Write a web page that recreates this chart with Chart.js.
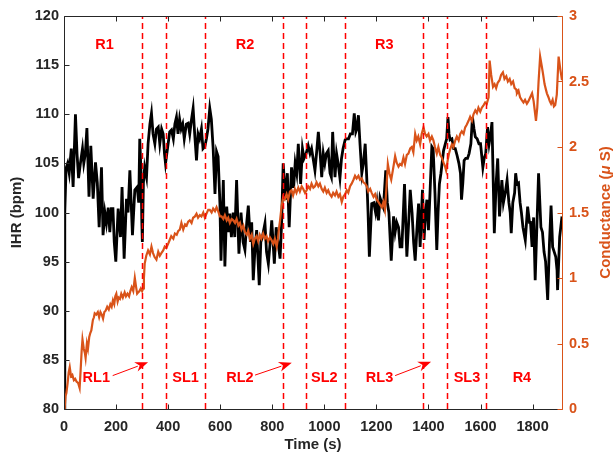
<!DOCTYPE html>
<html>
<head>
<meta charset="utf-8">
<script src="https://cdn.jsdelivr.net/npm/chart.js@4.4.1/dist/chart.umd.min.js"></script>
<style>
  body { margin: 0; background: #fff; }
  #chart { display: block; }
</style>
</head>
<body>
<canvas id="chart" width="614" height="459"></canvas>
<script>
// heart rate (left axis)
const ihrTime = [0,3,8,14,20,28,35,44,50,56,63,71,76,82,88,96,103,112,121,128,135,144,150,157,163,170,176,182,188,193,199,208,217,223,231,240,246,253,263,272,281,287,291,296,299,301,305,310,317,323,330,336,342,349,355,362,368,375,381,386,390,395,400,406,413,420,426,432,438,444,450,456,462,470,477,483,490,496,502,509,515,521,528,534,541,547,553,560,566,573,580,586,592,599,603,612,618,625,632,637,643,650,656,663,672,680,688,695,702,708,716,721,727,733,740,750,756,762,772,778,785,792,798,808,815,822,830,836,842,851,858,865,874,882,888,894,900,909,916,922,930,938,945,951,957,964,970,977,984,990,996,1002,1008,1015,1022,1027,1032,1036,1041,1047,1053,1060,1066,1072,1080,1086,1093,1100,1108,1115,1121,1125,1131,1137,1144,1150,1157,1163,1168,1173,1182,1190,1197,1202,1208,1214,1220,1227,1236,1242,1248,1257,1266,1272,1278,1285,1291,1298,1308,1317,1324,1330,1337,1343,1349,1355,1362,1368,1377,1383,1389,1394,1400,1406,1413,1418,1425,1432,1437,1442,1448,1458,1465,1470,1475,1479,1483,1490,1497,1503,1510,1517,1523,1527,1532,1537,1543,1550,1556,1563,1569,1575,1580,1587,1594,1600,1605,1609,1614,1620,1627,1633,1639,1644,1653,1660,1666,1673,1682,1688,1695,1702,1709,1714,1718,1724,1731,1735,1740,1746,1752,1757,1763,1772,1781,1788,1792,1798,1804,1810,1817,1823,1832,1838,1844,1850,1858,1865,1871,1877,1883,1889,1894,1896,1904,1913];
const ihrValues = [80,100,104.5,105,104,106.5,102.6,110,106,103.5,105,106.5,105,106,108.6,101.6,106.8,101.4,105.1,103,98.5,104.6,97.7,100,98.9,100.5,98,100.4,100.4,97,95,100.4,97.5,102.6,95.3,101.4,100,104.3,97.7,102.3,102.6,101,107.5,104,99,97,103,104.6,103.6,107,109,110.1,108,107,108.5,108.7,107,108.5,108,106,105,106,107,108.2,108.4,107.5,109,109.7,108,109.5,108.5,109,107.5,109,109.1,108,109.5,110.6,108,105.3,108,107.5,108.5,106.5,106.7,107.5,108.5,110.6,109.5,106.5,101.9,106.2,105.7,100.9,95.1,103.3,94.5,100.6,98,99.9,97.5,100,97.5,103.3,95.8,100,97,96.2,99,100.7,97,99,93.1,96,98.2,92.6,97,97.5,98.9,96,94.8,97,99.2,94.8,98.5,97,95.3,99,105,101.3,104,98.5,104.6,102.5,105,104,107,102.9,106.5,105.5,106,106.8,106,106.5,105.5,104.3,106,108.2,106,103.6,106,105,106,106.3,104,103.6,108.2,106,103.6,106,105,103.5,105.5,106.5,107.4,107.5,107.5,108,108,110.1,108.2,108.5,109.9,107,104,105,107,103.5,100,95.5,100.9,101,100,101,99.2,101.5,101,100.5,104.3,101,100,95.1,99.6,98,99,98.5,96.5,96.5,102.9,95.5,99,102.3,100,97,95.1,98,100.9,96.5,102.3,97.2,100,101.3,98.2,102,106.7,106.5,102,96.2,100,102.9,104,106.3,107,107.5,109.7,108,107.4,107.5,106.5,106.5,105.8,105,104,101.3,103,105.3,105.5,105.5,106,107,109.7,108.5,107.7,107.5,107,107,105.7,104.6,105.5,106,108.7,107,108,109.2,97.9,103,105.5,99.6,103.3,101,102,103.3,101,100,97.9,101,102,104,102.9,103,101,100,98.5,97.2,100.6,99,99,96.5,99.5,93.1,99,104,98.5,98,96,95,91.1,97,100.7,96.5,96,95.5,94.1,92.1,97.5,99.6];

// skin conductance (right axis)
const scTime = [0,3,6,9,14,18,22,27,32,38,43,48,54,60,64,68,71,76,80,83,88,92,97,101,105,111,115,118,124,130,135,140,145,150,155,160,166,172,178,183,188,193,197,201,206,210,215,220,226,233,238,244,250,255,260,266,272,277,281,285,290,295,300,304,307,310,316,323,330,336,342,348,355,362,368,374,381,387,393,400,406,412,420,426,433,439,445,451,458,465,471,477,483,490,496,503,509,515,522,528,535,541,547,554,560,567,573,580,586,592,599,605,612,618,625,631,637,644,650,657,663,670,676,682,689,695,702,708,714,721,727,733,740,746,752,758,765,771,778,784,791,797,804,810,817,822,826,830,836,842,848,855,861,868,874,880,887,893,900,906,913,919,926,932,938,945,951,958,964,970,977,983,990,996,1002,1009,1015,1021,1028,1034,1041,1047,1054,1060,1067,1073,1080,1086,1092,1099,1105,1112,1118,1124,1131,1137,1144,1150,1157,1163,1169,1176,1182,1189,1195,1201,1208,1214,1221,1227,1233,1239,1244,1250,1257,1263,1268,1272,1278,1285,1291,1297,1304,1310,1317,1323,1330,1336,1342,1349,1355,1361,1368,1374,1381,1387,1393,1400,1406,1413,1419,1425,1432,1438,1445,1451,1458,1464,1468,1474,1479,1483,1490,1496,1503,1509,1516,1522,1528,1535,1541,1547,1554,1560,1567,1573,1580,1586,1592,1599,1605,1612,1618,1624,1631,1635,1641,1648,1654,1660,1666,1673,1679,1686,1692,1699,1705,1712,1718,1725,1731,1737,1740,1746,1752,1758,1765,1771,1778,1784,1791,1798,1804,1810,1813,1818,1823,1829,1835,1840,1846,1851,1855,1861,1866,1871,1877,1882,1887,1893,1900,1906,1913];
const scValues = [0,0.02,0.1,0.12,0.2,0.28,0.32,0.25,0.26,0.22,0.23,0.21,0.2,0.16,0.3,0.45,0.53,0.46,0.43,0.39,0.5,0.46,0.55,0.58,0.6,0.68,0.7,0.73,0.72,0.74,0.7,0.74,0.72,0.69,0.74,0.75,0.78,0.76,0.8,0.78,0.83,0.8,0.86,0.88,0.82,0.85,0.84,0.88,0.85,0.89,0.86,0.88,0.86,0.9,0.93,0.9,1.0,0.93,0.88,0.89,0.9,0.92,0.9,0.92,1.0,1.11,1.17,1.21,1.18,1.24,1.19,1.16,1.14,1.2,1.17,1.19,1.21,1.24,1.23,1.26,1.29,1.32,1.3,1.34,1.33,1.36,1.37,1.42,1.37,1.41,1.4,1.43,1.44,1.42,1.46,1.47,1.49,1.46,1.48,1.47,1.5,1.46,1.49,1.52,1.52,1.5,1.53,1.51,1.54,1.51,1.47,1.47,1.45,1.48,1.44,1.46,1.42,1.45,1.44,1.42,1.45,1.4,1.42,1.37,1.4,1.35,1.33,1.36,1.3,1.33,1.26,1.3,1.32,1.28,1.33,1.3,1.34,1.3,1.32,1.28,1.31,1.29,1.26,1.3,1.24,1.3,1.38,1.44,1.55,1.62,1.6,1.64,1.6,1.66,1.67,1.63,1.68,1.65,1.69,1.66,1.7,1.68,1.65,1.67,1.7,1.68,1.72,1.69,1.7,1.73,1.7,1.72,1.68,1.66,1.69,1.65,1.67,1.64,1.62,1.65,1.63,1.66,1.62,1.64,1.58,1.62,1.64,1.67,1.65,1.7,1.72,1.75,1.78,1.76,1.78,1.75,1.76,1.73,1.72,1.7,1.66,1.68,1.65,1.62,1.64,1.6,1.58,1.56,1.54,1.58,1.52,1.7,1.87,1.8,1.75,1.82,1.88,1.93,1.88,1.85,1.87,1.86,1.92,1.87,1.94,1.95,1.99,2.0,1.96,2.1,2.05,2.08,2.02,2.1,2.15,2.1,2.08,2.1,2.05,2.08,2.05,2.0,1.95,2.0,1.94,1.92,1.88,1.85,1.82,1.9,1.95,1.98,2.02,2.0,2.05,2.08,2.05,2.1,2.12,2.1,2.15,2.17,2.2,2.23,2.2,2.25,2.28,2.26,2.3,2.27,2.3,2.32,2.34,2.33,2.38,2.66,2.55,2.46,2.48,2.45,2.49,2.51,2.55,2.57,2.52,2.54,2.5,2.52,2.48,2.5,2.45,2.44,2.41,2.43,2.38,2.36,2.34,2.36,2.33,2.35,2.38,2.41,2.35,2.25,2.2,2.3,2.5,2.69,2.62,2.56,2.48,2.44,2.41,2.38,2.35,2.33,2.36,2.31,2.32,2.4,2.69,2.6,2.51];

// axes
const xTicks = [0,200,400,600,800,1000,1200,1400,1600,1800];
const leftTicks = [80,85,90,95,100,105,110,115,120];
const rightTicks = [0,0.5,1,1.5,2,2.5,3];

// phase boundaries and annotations
const phaseLines = [300,390,540,840,930,1080,1380,1470,1620];
const phaseLabels = ['R1','R2','R3','RL1','SL1','RL2','SL2','RL3','SL3','R4'];
const phaseLabelX = [156,695,1230,124,467,676,1000,1212,1548,1759];
const phaseLabelY = [117,117,117,83.2,83.2,83.2,83.2,83.2,83.2,83.2];
const arrowFromX = [187,734,1272];
const arrowFromY = [83.4,83.45,83.4];
const arrowToX = [323,875,1410];
const arrowToY = [84.75,84.72,84.8];

const ORANGE = '#D95319';
const DARK = '#262626';
const FONT = '"Liberation Sans", Arial, sans-serif';

const overlay = {
    id: 'overlay',
    afterDatasetsDraw(chart) {
        const c = chart.ctx;
        const a = chart.chartArea;
        const x = chart.scales.x, y = chart.scales.y, y1 = chart.scales.y1;
        c.save();

        // dashed phase lines
        c.strokeStyle = '#FF0000';
        c.lineWidth = 1.5;
        c.setLineDash([6, 4]);
        phaseLines.forEach(t => {
            const px = Math.round(x.getPixelForValue(t)) + 0.5;
            c.beginPath();
            c.moveTo(px, a.bottom);
            c.lineTo(px, a.top);
            c.stroke();
        });
        c.setLineDash([]);

        // labels
        c.fillStyle = '#FF0000';
        c.font = 'bold 14.5px ' + FONT;
        c.textAlign = 'center';
        c.textBaseline = 'middle';
        phaseLabels.forEach((s, i) => {
            c.fillText(s, x.getPixelForValue(phaseLabelX[i]), y.getPixelForValue(phaseLabelY[i]));
        });

        // arrows
        c.strokeStyle = '#FF0000';
        c.lineWidth = 1;
        arrowFromX.forEach((fx, i) => {
            const x0 = x.getPixelForValue(fx), y0 = y.getPixelForValue(arrowFromY[i]);
            const x1 = x.getPixelForValue(arrowToX[i]), y1p = y.getPixelForValue(arrowToY[i]);
            const ang = Math.atan2(y1p - y0, x1 - x0);
            const L = 11, W = 5;
            const bx = x1 - L * Math.cos(ang), by = y1p - L * Math.sin(ang);
            c.beginPath();
            c.moveTo(x0, y0);
            c.lineTo(bx, by);
            c.stroke();
            c.beginPath();
            c.moveTo(x1, y1p);
            c.lineTo(bx - W * Math.sin(ang) - 2 * Math.cos(ang), by + W * Math.cos(ang) - 2 * Math.sin(ang));
            c.lineTo(bx + 2 * Math.cos(ang), by + 2 * Math.sin(ang));
            c.lineTo(bx + W * Math.sin(ang) - 2 * Math.cos(ang), by - W * Math.cos(ang) - 2 * Math.sin(ang));
            c.closePath();
            c.fill();
        });

        // box and inward ticks
        c.lineWidth = 1;
        c.strokeStyle = DARK;
        const L = Math.round(a.left) + 0.5, R = Math.round(a.right) + 0.5;
        const T = Math.round(a.top) + 0.5, B = Math.round(a.bottom) + 0.5;
        c.beginPath();
        c.moveTo(L, T); c.lineTo(R, T);
        c.moveTo(L, T); c.lineTo(L, B); c.lineTo(R, B);
        xTicks.forEach(t => {
            const px = Math.round(x.getPixelForValue(t)) + 0.5;
            c.moveTo(px, B); c.lineTo(px, B - 5);
            c.moveTo(px, T); c.lineTo(px, T + 5);
        });
        leftTicks.forEach(v => {
            const py = Math.round(y.getPixelForValue(v)) + 0.5;
            c.moveTo(L, py); c.lineTo(L + 5, py);
        });
        c.stroke();
        c.strokeStyle = ORANGE;
        c.beginPath();
        c.moveTo(R, T); c.lineTo(R, B);
        rightTicks.forEach(v => {
            const py = Math.round(y1.getPixelForValue(v)) + 0.5;
            c.moveTo(R, py); c.lineTo(R - 5, py);
        });
        c.stroke();

        // axis titles
        c.font = 'bold 15px ' + FONT;
        c.fillStyle = DARK;
        c.textAlign = 'center';
        c.textBaseline = 'middle';
        c.fillText('Time (s)', (a.left + a.right) / 2, 445);
        const midY = (a.top + a.bottom) / 2;
        c.save();
        c.translate(17, midY);
        c.rotate(-Math.PI / 2);
        c.fillText('IHR (bpm)', 0, 0);
        c.restore();

        c.save();
        c.translate(606, midY);
        c.rotate(-Math.PI / 2);
        c.fillStyle = ORANGE;
        const parts = [['Conductance (', 'bold 15px '], ['\u03bc', 'italic bold 15px '], [' S)', 'bold 15px ']];
        let total = 0;
        parts.forEach(p => { c.font = p[1] + FONT; total += c.measureText(p[0]).width; });
        let cx = -total / 2;
        c.textAlign = 'left';
        parts.forEach(p => {
            c.font = p[1] + FONT;
            c.fillText(p[0], cx, 0);
            cx += c.measureText(p[0]).width;
        });
        c.restore();

        c.restore();
    }
};

const ihrData = ihrTime.map((t, i) => ({ x: t, y: ihrValues[i] }));
const scData = scTime.map((t, i) => ({ x: t, y: scValues[i] }));

const tickFont = { family: FONT, size: 14.5, weight: 'bold' };
const plain = v => String(v);

new Chart(document.getElementById('chart'), {
    type: 'line',
    data: {
        datasets: [
            {
                label: 'IHR',
                data: ihrData,
                yAxisID: 'y',
                borderColor: '#000000',
                borderWidth: 2.8,
                pointRadius: 0,
                tension: 0,
                order: 1
            },
            {
                label: 'Conductance',
                data: scData,
                yAxisID: 'y1',
                borderColor: ORANGE,
                borderWidth: 2.2,
                pointRadius: 0,
                tension: 0,
                order: 0
            }
        ]
    },
    options: {
        responsive: false,
        animation: false,
        events: [],
        layout: { padding: { top: 16, left: 0, right: 0, bottom: 0 } },
        plugins: { legend: { display: false }, tooltip: { enabled: false } },
        scales: {
            x: {
                type: 'linear',
                min: 0,
                max: 1913,
                grid: { display: false, drawTicks: false },
                border: { display: false },
                afterBuildTicks: s => { s.ticks = xTicks.map(v => ({ value: v })); },
                afterFit: s => { s.height = 50; },
                ticks: { font: tickFont, color: DARK, padding: 9, maxRotation: 0, callback: plain }
            },
            y: {
                position: 'left',
                min: 80,
                max: 120,
                grid: { display: false, drawTicks: false },
                border: { display: false },
                afterBuildTicks: s => { s.ticks = leftTicks.map(v => ({ value: v })); },
                afterFit: s => { s.width = 64; },
                ticks: { font: tickFont, color: DARK, padding: 5, callback: plain }
            },
            y1: {
                position: 'right',
                min: 0,
                max: 3,
                grid: { display: false, drawTicks: false },
                border: { display: false },
                afterBuildTicks: s => { s.ticks = rightTicks.map(v => ({ value: v })); },
                afterFit: s => { s.width = 52; },
                ticks: { font: tickFont, color: ORANGE, padding: 7, callback: plain }
            }
        }
    },
    plugins: [overlay]
});
</script>
</body>
</html>
